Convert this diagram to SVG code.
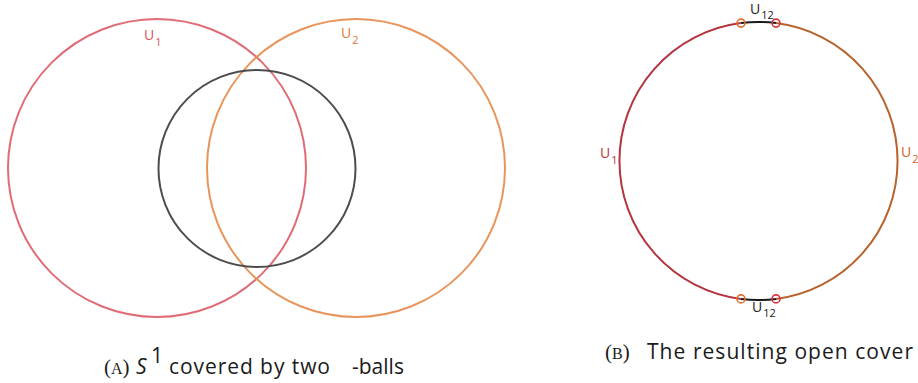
<svg xmlns="http://www.w3.org/2000/svg" width="918" height="383" viewBox="0 0 918 383">
<style>
.lbl{font-family:"Open Sans","Noto Sans",sans-serif;font-size:14px}
.sub{font-size:11px}
.cap{font-family:"Open Sans","Noto Sans",sans-serif;font-size:21px;fill:#1a1a1a}
.sc{font-family:"Liberation Serif",serif;fill:#1a1a1a}
.c{fill:none;stroke-width:2}
.m{fill:none;stroke-width:1.6}
</style>
<rect width="918" height="383" fill="#fff"/>
<g id="panelA">
<g id="U1ball"><circle class="c" cx="157" cy="168" r="149" stroke="#e06c75"/></g>
<g id="U2ball"><circle class="c" cx="356" cy="168" r="149" stroke="#e8955c"/></g>
<g id="S1"><circle class="c" cx="257" cy="168.5" r="98.5" stroke="#4d4d4d"/></g>
<g id="labelsA">
<text class="lbl" x="144" y="40" fill="#d9535e">U<tspan class="sub" dx="1" dy="6">1</tspan></text>
<text class="lbl" x="341" y="38" fill="#e07a3a">U<tspan class="sub" dx="1" dy="6">2</tspan></text>
</g>
</g>
<g id="connectors">
<path class="c" d="M741,23.1 A139,139 0 0 0 741,298.9" stroke="#b3353f"/>
<path class="c" d="M776,23.1 A139,139 0 0 1 776,298.9" stroke="#b8622c"/>
<path class="c" d="M741,23.1 A139,139 0 0 1 776,23.1" stroke="#1a1a1a"/>
<path class="c" d="M741,298.9 A139,139 0 0 0 776,298.9" stroke="#1a1a1a"/>
</g>
<g id="markers">
<circle class="m" cx="741" cy="23.1" r="4" stroke="#e0702e"/>
<circle class="m" cx="776" cy="23.1" r="4" stroke="#d8353d"/>
<circle class="m" cx="741" cy="298.9" r="4" stroke="#e0702e"/>
<circle class="m" cx="776" cy="298.9" r="4" stroke="#d8353d"/>
</g>
<g id="labelsB">
<text class="lbl" x="600" y="158" fill="#c0303a">U<tspan class="sub" dx="1" dy="6">1</tspan></text>
<text class="lbl" x="901" y="157" fill="#d0642a">U<tspan class="sub" dx="1" dy="6">2</tspan></text>
<text class="lbl" x="750" y="14" fill="#1a1a1a">U<tspan class="sub" dx="1" dy="5">12</tspan></text>
<text class="lbl" x="752" y="312" fill="#1a1a1a">U<tspan class="sub" dx="1" dy="5">12</tspan></text>
</g>
<g id="captionA">
<text class="sc" x="104" y="374" font-size="21">(<tspan font-size="16">A</tspan>)</text>
<text class="cap" x="136" y="374" font-style="italic">S</text>
<text class="cap" x="151" y="363" font-size="12">1</text>
<text class="cap" x="169" y="374" textLength="161" lengthAdjust="spacing">covered by two</text>
<text class="cap" x="352" y="374">-balls</text>
</g>
<g id="captionB">
<text class="sc" x="605" y="359" font-size="21">(<tspan font-size="16">B</tspan>)</text>
<text class="cap" x="647" y="359" textLength="266" lengthAdjust="spacing">The resulting open cover</text>
</g>
</svg>
